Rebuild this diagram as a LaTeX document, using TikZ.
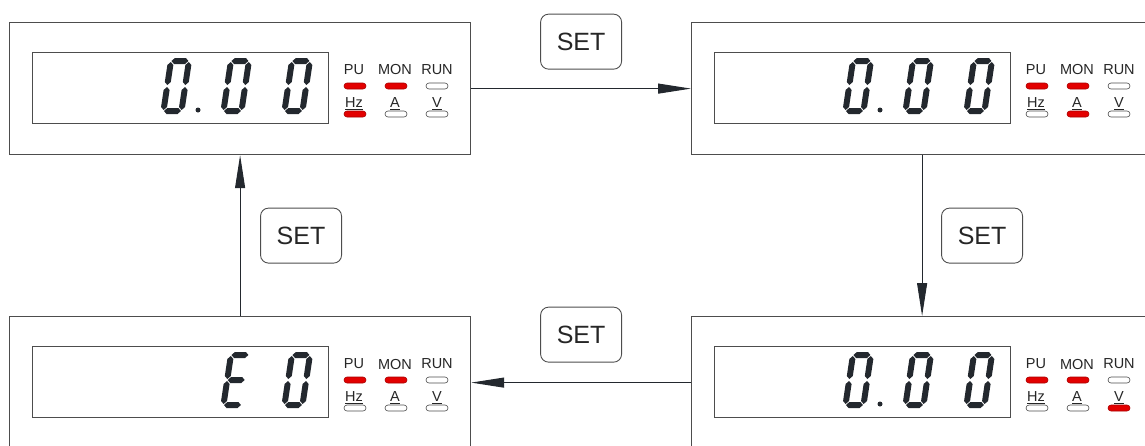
\documentclass[tikz,border=0pt]{standalone}
\usepackage{fontspec}
\setmainfont{Liberation Sans}
\usetikzlibrary{arrows.meta, positioning}

\definecolor{frameg}{HTML}{4D4D4D}
\definecolor{segdark}{HTML}{23282E}
\definecolor{ledred}{HTML}{E30000}

% one slanted seven-segment digit: x, baseline y, horizontal bars, vertical bars
\newcommand{\segdigit}[4]{%
  \begin{scope}[shift={(#1,#2)}, y=1pt, xslant=0.15]
    \foreach \hy in {#3}
      \fill[segdark] (3.5,\hy) -- ++(3,3) -- ++(11,0) -- ++(3,-3)
        -- ++(-3,-3) -- ++(-11,0) -- cycle;
    \foreach \vx/\vy in {#4}
      \fill[segdark] (\vx,\vy) -- ++(3,3) -- ++(0,17) -- ++(-3,3)
        -- ++(-3,-3) -- ++(0,-17) -- cycle;
  \end{scope}}

% indicator block: name prefix, then PU MON RUN Hz A V lamp styles
\newcommand{\leds}[7]{%
  \node (#1-pu) at (345,48) {PU};
  \node (#1-mon) at (386,48) {MON};
  \node (#1-run) at (428,48) {RUN};
  \node[#2] (#1-lpu) at (346,64) {};
  \node[#3] (#1-lmon) at (387,64) {};
  \node[#4] (#1-lrun) at (428,64) {};
  \node (#1-hz) at (345,82) {\underline{Hz}};
  \node (#1-a) at (386,82) {\underline{A}};
  \node (#1-v) at (428,82) {\underline{V}};
  \node[#5] (#1-lhz) at (346,92) {};
  \node[#6] (#1-la) at (387,92) {};
  \node[#7] (#1-lv) at (428,92) {};}

\begin{document}
\begin{tikzpicture}[x=1pt, y=-1pt,
    every node/.style={font=\fontsize{14.5}{16}\selectfont, text=black!85},
    panel/.style={draw=frameg, line width=1.2pt, minimum width=461pt,
                  minimum height=132pt, anchor=north west, inner sep=0pt},
    screen/.style={draw=frameg, line width=1pt},
    ledon/.style={draw=ledred!75!black, fill=ledred, rounded corners=3pt,
                  minimum width=22pt, minimum height=6pt, inner sep=0pt, line width=0.6pt},
    ledoff/.style={ledon, draw=frameg, fill=white},
    setkey/.style={draw=frameg, line width=0.9pt, rounded corners=8pt, minimum width=81pt,
                   minimum height=55pt, font=\fontsize{25}{28}\selectfont},
    arr/.style={-{Triangle[length=33pt, width=10pt]}, line width=1pt, draw=segdark}
]
    \clip (0,0) rectangle (1145,445);

    \node[panel] (tl) at (9,22) {};
    \node[panel] (tr) at (691,22) {};
    \node[panel] (br) at (691,316) {};
    \node[panel] (bl) at (9,316) {};

    % top left: 0.00, PU MON Hz
    \begin{scope}[shift={(9,22)}]
        \draw[screen] (23,30) rectangle (319,101);
        \segdigit{151}{92}{3,53}{3/4,21/4,3/29,21/29}
        \segdigit{211}{92}{3,53}{3/4,21/4,3/29,21/29}
        \segdigit{272}{92}{3,53}{3/4,21/4,3/29,21/29}
        \fill[segdark] (189,88) circle (2.5pt);
        \leds{tl}{ledon}{ledon}{ledoff}{ledon}{ledoff}{ledoff}
    \end{scope}

    % top right: 0.00, PU MON A
    \begin{scope}[shift={(691,22)}]
        \draw[screen] (23,30) rectangle (319,101);
        \segdigit{151}{92}{3,53}{3/4,21/4,3/29,21/29}
        \segdigit{211}{92}{3,53}{3/4,21/4,3/29,21/29}
        \segdigit{272}{92}{3,53}{3/4,21/4,3/29,21/29}
        \fill[segdark] (189,88) circle (2.5pt);
        \leds{tr}{ledon}{ledon}{ledoff}{ledoff}{ledon}{ledoff}
    \end{scope}

    % bottom right: 0.00, PU MON V
    \begin{scope}[shift={(691,316)}]
        \draw[screen] (23,30) rectangle (319,101);
        \segdigit{151}{92}{3,53}{3/4,21/4,3/29,21/29}
        \segdigit{211}{92}{3,53}{3/4,21/4,3/29,21/29}
        \segdigit{272}{92}{3,53}{3/4,21/4,3/29,21/29}
        \fill[segdark] (189,88) circle (2.5pt);
        \leds{br}{ledon}{ledon}{ledoff}{ledoff}{ledoff}{ledon}
    \end{scope}

    % bottom left: E0, PU MON
    \begin{scope}[shift={(9,316)}]
        \draw[screen] (23,30) rectangle (319,101);
        \segdigit{211}{92}{3,28,53}{3/4,3/29}
        \segdigit{272}{92}{3,53}{3/4,21/4,3/29,21/29}
        \leds{bl}{ledon}{ledon}{ledoff}{ledoff}{ledoff}{ledoff}
    \end{scope}

    \draw[arr] (tl) -- node[setkey, above=19pt] (set1) {SET} (tr);
    \draw[arr] (tr) -- node[setkey, right=19pt] (set2) {SET} (br);
    \draw[arr] (br) -- node[setkey, above=20pt] (set3) {SET} (bl);
    \draw[arr] (bl) -- node[setkey, right=20pt] (set4) {SET} (tl);
\end{tikzpicture}
\end{document}
